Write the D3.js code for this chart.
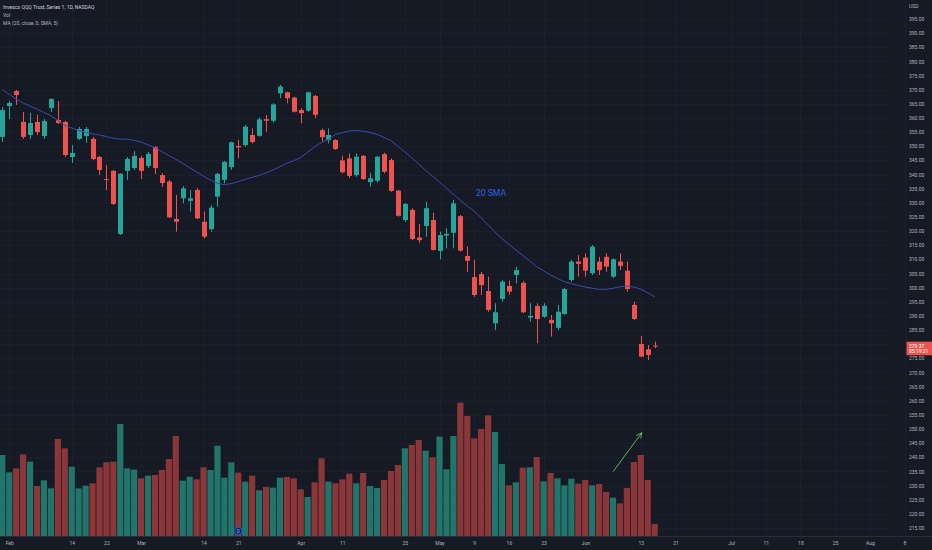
<!DOCTYPE html>
<html>
<head>
<meta charset="utf-8">
<script src="https://cdn.jsdelivr.net/npm/d3@7"></script>
<style>
  body { margin: 0; background: #161a25; }
  svg { display: block; font-family: Roboto, "Noto Sans", sans-serif; }
</style>
</head>
<body>
<div id="chart"></div>
<script>
// daily bars, QQQ
var dates = ["2022-01-31",
  "2022-02-01","2022-02-02","2022-02-03","2022-02-04","2022-02-07","2022-02-08","2022-02-09","2022-02-10","2022-02-11",
  "2022-02-14","2022-02-15","2022-02-16","2022-02-17","2022-02-18","2022-02-22","2022-02-23","2022-02-24","2022-02-25","2022-02-28",
  "2022-03-01","2022-03-02","2022-03-03","2022-03-04","2022-03-07","2022-03-08","2022-03-09","2022-03-10","2022-03-11",
  "2022-03-14","2022-03-15","2022-03-16","2022-03-17","2022-03-18","2022-03-21","2022-03-22","2022-03-23","2022-03-24","2022-03-25",
  "2022-03-28","2022-03-29","2022-03-30","2022-03-31",
  "2022-04-01","2022-04-04","2022-04-05","2022-04-06","2022-04-07","2022-04-08","2022-04-11","2022-04-12","2022-04-13","2022-04-14",
  "2022-04-18","2022-04-19","2022-04-20","2022-04-21","2022-04-22","2022-04-25","2022-04-26","2022-04-27","2022-04-28","2022-04-29",
  "2022-05-02","2022-05-03","2022-05-04","2022-05-05","2022-05-06","2022-05-09","2022-05-10","2022-05-11","2022-05-12","2022-05-13",
  "2022-05-16","2022-05-17","2022-05-18","2022-05-19","2022-05-20","2022-05-23","2022-05-24","2022-05-25","2022-05-26","2022-05-27",
  "2022-05-31","2022-06-01","2022-06-02","2022-06-03","2022-06-06","2022-06-07","2022-06-08","2022-06-09","2022-06-10",
  "2022-06-13","2022-06-14","2022-06-15"];

var opens = [353.3,364.2,369.5,358.6,354.0,358.6,353.6,363.5,359.3,358.6,
  346.2,352.6,353.6,352.6,346.2,338.4,341.3,319.0,341.3,342.3,
  345.9,343.0,349.7,339.8,337.5,324.3,331.6,330.7,334.5,323.3,
  320.7,332.2,338.1,342.6,350.1,350.4,354.0,353.7,359.6,359.0,
  368.7,369.1,367.2,362.8,362.6,367.8,355.7,352.2,352.2,345.0,
  345.7,339.8,346.6,337.3,337.8,347.2,345.1,334.3,323.9,327.5,
  317.7,321.8,323.9,313.0,318.4,319.4,325.3,311.2,303.7,304.8,
  298.8,287.4,296.0,300.6,304.5,301.7,289.4,293.5,289.7,288.6,
  285.8,290.7,302.7,309.2,310.6,305.1,309.2,310.9,303.9,309.2,
  306.0,293.9,280.1,278.2,279.5];
var highs = [363.9,366.0,369.9,362.1,361.8,361.1,359.6,367.0,366.0,359.0,
  350.4,356.8,356.8,353.3,346.6,343.4,341.6,340.5,346.2,348.3,
  346.6,348.0,350.1,340.5,338.1,332.8,335.9,334.5,335.2,326.9,
  329.2,340.6,344.8,351.6,352.2,357.5,356.3,360.2,361.1,365.2,
  371.7,369.3,367.5,363.5,369.3,368.1,356.3,356.3,352.5,346.6,
  347.5,347.5,346.9,340.6,346.6,347.7,345.7,334.5,330.0,328.1,
  322.5,330.4,326.5,319.8,321.0,331.0,325.7,314.5,309.8,305.6,
  303.9,294.5,302.7,302.5,307.4,302.3,294.5,294.5,294.5,290.3,
  293.9,299.8,309.8,311.5,312.1,315.1,310.9,312.1,310.4,312.1,
  309.2,295.0,282.9,279.7,280.9];
var lows = [351.5,359.6,364.6,352.6,352.6,354.0,352.6,362.1,357.9,346.2,
  344.1,352.2,351.2,345.1,339.8,334.5,329.2,318.6,338.1,341.6,
  338.4,342.3,340.2,335.6,324.6,319.8,329.8,326.9,324.3,317.4,
  319.8,328.6,336.9,341.6,345.7,349.8,351.0,353.4,355.1,358.3,
  367.0,365.2,362.0,358.1,362.2,359.9,351.6,351.0,348.7,340.4,
  338.7,339.2,338.1,335.7,337.1,340.4,333.9,325.1,323.3,316.8,
  315.7,318.0,313.1,310.0,313.9,313.9,312.7,305.6,296.8,297.4,
  291.5,285.0,295.0,297.4,301.5,291.0,288.0,280.3,289.3,282.7,
  285.0,290.3,302.1,303.9,303.9,304.5,304.5,305.6,303.3,306.2,
  298.6,288.6,275.4,274.4,278.6];
var closes = [362.8,365.3,368.1,353.3,358.2,355.0,358.9,366.7,358.2,346.9,
  347.6,356.1,356.1,345.5,341.6,338.1,329.6,340.3,345.5,346.6,
  341.3,347.3,342.3,337.0,324.9,323.3,335.1,331.6,324.5,318.0,
  328.3,340.2,344.5,351.4,349.6,356.9,351.5,359.5,359.0,364.8,
  371.1,367.0,362.2,361.7,369.1,361.1,353.2,354.0,349.0,340.8,
  339.5,346.3,338.4,338.7,346.3,341.0,334.2,325.4,329.6,317.2,
  316.8,328.1,313.3,318.6,319.0,329.8,313.1,309.5,297.4,300.9,
  292.1,291.3,302.1,298.6,306.2,291.3,290.0,288.9,293.6,287.4,
  291.5,299.5,309.2,308.4,306.0,314.5,306.2,307.4,310.0,307.7,
  299.5,288.9,275.6,276.2,279.37];
// volume in millions
var volumes = [97.2,76.4,81.2,98.0,89.2,60.0,66.8,57.2,116.4,105.2,
  83.2,57.2,60.4,63.2,82.4,88.4,89.2,134.4,81.2,79.6,
  69.2,72.4,73.2,79.2,92.4,120.0,66.4,71.2,68.0,82.4,
  79.2,108.4,70.0,88.4,76.0,65.2,72.4,54.8,58.8,58.0,
  70.0,70.8,69.2,56.0,46.8,64.4,93.2,65.2,63.2,68.0,
  74.8,63.2,75.6,60.0,57.6,67.2,78.0,85.2,105.2,109.2,
  115.2,102.4,94.4,119.2,80.0,120.0,160.0,144.0,117.2,128.4,
  144.8,124.8,86.4,60.8,64.4,82.0,82.4,94.8,65.6,75.6,
  69.2,60.8,68.8,62.8,67.2,60.8,62.4,52.8,46.0,39.2,
  57.6,88.8,97.2,67.2,14.4];
// 20 SMA
var ma20 = [370.0,368.4,366.7,365.3,364.2,363.1,362.0,360.8,359.1,357.4,
  356.4,355.6,354.9,354.4,354.0,353.4,352.8,352.5,352.5,352.1,
  351.5,350.5,349.5,348.1,346.7,345.4,343.9,342.4,340.9,339.4,
  338.0,336.9,336.4,336.8,337.5,338.3,339.0,339.7,340.6,341.6,
  342.8,344.0,344.9,346.0,347.9,349.8,351.3,352.5,354.2,354.8,
  355.4,355.6,355.3,354.9,354.2,353.1,352.0,350.0,348.0,345.9,
  343.7,341.5,339.4,337.3,335.2,333.0,330.9,328.9,327.0,324.7,
  322.2,319.7,317.3,315.3,313.3,311.4,309.4,307.4,306.0,304.5,
  303.2,302.1,301.4,300.8,300.2,299.8,299.4,299.4,299.8,300.3,
  300.6,300.2,299.5,298.2,296.7];

var tickDates = ["2022-02-01","2022-02-14","2022-02-22","2022-03-01","2022-03-14","2022-03-21","2022-04-01","2022-04-11",
  "2022-04-25","2022-05-02","2022-05-09","2022-05-16","2022-05-23","2022-06-01","2022-06-13","2022-06-21","2022-07-01",
  "2022-07-11","2022-07-18","2022-07-25","2022-08-01","2022-08-08"];
var tickLabels = ["Feb","14","22","Mar","14","21","Apr","11","25","May","9","16","23","Jun","13","21","Jul","11","18","25","Aug","8"];
var holidays = ["2022-06-20","2022-07-04"];
var priceTicks = d3.range(215, 400, 5);

var svgWidth = 932;
var svgHeight = 550;
var paneRight = 888;
var paneBottom = 536;
var barStep = 6.94;

var upColor = "#26a69a", downColor = "#ef5350";
var upVol = "#22756b", downVol = "#8b3638";

// trading-session index, also for dates past the last bar
var parseDay = d3.utcParse("%Y-%m-%d"), fmtDay = d3.utcFormat("%Y-%m-%d");
function sessionIndex(ds) {
  var k = dates.indexOf(ds);
  if (k >= 0) return k;
  var day = parseDay(dates[dates.length - 1]), target = parseDay(ds), n = dates.length - 1;
  while (day < target) {
    day = d3.utcDay.offset(day, 1);
    var wd = day.getUTCDay();
    if (wd !== 0 && wd !== 6 && holidays.indexOf(fmtDay(day)) < 0) n++;
  }
  return n;
}
var tickIdx = tickDates.map(sessionIndex);

var x = d3.scaleLinear().domain([0, 130]).range([2.3, 2.3 + 130 * barStep]);
var y = d3.scaleLinear().domain([215, 395]).range([528, 19]);
var yVol = d3.scaleLinear().domain([0, 120]).range([paneBottom, paneBottom - 100]);

var svg = d3.select("#chart")
  .append("svg")
  .attr("width", svgWidth)
  .attr("height", svgHeight);

svg.append("rect").attr("width", svgWidth).attr("height", svgHeight).attr("fill", "#161a25");

svg.append("defs").append("clipPath").attr("id", "pane")
  .append("rect").attr("width", paneRight).attr("height", paneBottom);

// grid
var grid = svg.append("g").attr("stroke", "#1b1f2b").attr("shape-rendering", "crispEdges");
grid.selectAll("line.h").data(priceTicks).enter().append("line")
  .attr("x1", 0).attr("x2", paneRight)
  .attr("y1", d => Math.round(y(d)) + 0.5).attr("y2", d => Math.round(y(d)) + 0.5);
grid.selectAll("line.v").data(tickIdx).enter().append("line")
  .attr("y1", 0).attr("y2", paneBottom)
  .attr("x1", d => Math.round(x(d)) + 0.5).attr("x2", d => Math.round(x(d)) + 0.5);

var pane = svg.append("g").attr("clip-path", "url(#pane)");

// volume
pane.append("g").selectAll("rect")
  .data(volumes)
  .enter()
  .append("rect")
  .attr("x", (d, i) => x(i) - 3.1)
  .attr("width", 6.2)
  .attr("y", d => yVol(d))
  .attr("height", d => paneBottom - yVol(d))
  .attr("fill", (d, i) => closes[i] >= opens[i] ? upVol : downVol);

// candles
var candles = pane.append("g").selectAll("g")
  .data(dates)
  .enter()
  .append("g")
  .attr("fill", (d, i) => closes[i] >= opens[i] ? upColor : downColor)
  .attr("stroke", (d, i) => closes[i] >= opens[i] ? upColor : downColor);

candles.append("line")
  .attr("x1", (d, i) => Math.round(x(i)) + 0.5)
  .attr("x2", (d, i) => Math.round(x(i)) + 0.5)
  .attr("y1", (d, i) => y(highs[i]))
  .attr("y2", (d, i) => y(lows[i]))
  .attr("stroke-width", 1);

candles.append("rect")
  .attr("stroke", "none")
  .attr("x", (d, i) => Math.round(x(i)) - 2)
  .attr("width", 5)
  .attr("y", (d, i) => y(Math.max(opens[i], closes[i])))
  .attr("height", (d, i) => Math.max(1, Math.abs(y(opens[i]) - y(closes[i]))));

// moving average
var maLine = d3.line()
  .x((d, i) => x(i))
  .y(d => y(d));
pane.append("path")
  .datum(ma20)
  .attr("d", maLine)
  .attr("fill", "none")
  .attr("stroke", "#3a4bb0")
  .attr("stroke-width", 1);

// drawings
svg.append("text")
  .attr("x", x(68.25))
  .attr("y", y(332.4))
  .attr("fill", "#2f62e0")
  .attr("font-size", 8.6)
  .text("20 SMA");

var arrowFrom = { i: 88, p: 234.9 }, arrowTo = { i: 92.15, p: 248.7 };
var ax1 = x(arrowFrom.i), ay1 = y(arrowFrom.p), ax2 = x(arrowTo.i), ay2 = y(arrowTo.p);
var ang = Math.atan2(ay2 - ay1, ax2 - ax1);
var arrow = svg.append("g").attr("stroke", "#5fb35f").attr("stroke-width", 1).attr("fill", "none");
arrow.append("line").attr("x1", ax1).attr("y1", ay1).attr("x2", ax2).attr("y2", ay2);
arrow.append("path")
  .attr("d", "M" + (ax2 - 6 * Math.cos(ang - 0.45)) + "," + (ay2 - 6 * Math.sin(ang - 0.45)) +
    "L" + ax2 + "," + ay2 +
    "L" + (ax2 - 6 * Math.cos(ang + 0.45)) + "," + (ay2 - 6 * Math.sin(ang + 0.45)));

// dividend marker
var dx = x(sessionIndex("2022-03-21"));
svg.append("circle").attr("cx", dx).attr("cy", 531).attr("r", 3.8)
  .attr("fill", "#142456").attr("stroke", "#2962ff").attr("stroke-width", 0.8);
svg.append("text").attr("x", dx).attr("y", 532.8).attr("text-anchor", "middle")
  .attr("fill", "#8fb0ff").attr("font-size", 4.8).text("D");

// time axis
svg.append("line")
  .attr("x1", 0).attr("x2", svgWidth)
  .attr("y1", paneBottom + 0.5).attr("y2", paneBottom + 0.5)
  .attr("stroke", "#2a2e39");

var timeAxis = svg.append("g")
  .attr("transform", `translate(0, ${paneBottom})`)
  .call(d3.axisBottom(x).tickValues(tickIdx).tickFormat((d, i) => tickLabels[i]).tickSize(0).tickPadding(5));
timeAxis.select(".domain").remove();
timeAxis.selectAll("text").attr("fill", "#b2b5be").attr("font-size", 5).attr("font-family", "Roboto, sans-serif");

// price axis
var priceAxis = svg.append("g")
  .attr("transform", "translate(909, 0)")
  .call(d3.axisRight(y).tickValues(priceTicks).tickFormat(d3.format(".2f")).tickSize(0).tickPadding(0));
priceAxis.select(".domain").remove();
priceAxis.selectAll("text").attr("fill", "#b2b5be").attr("font-size", 5).attr("font-family", "Roboto, sans-serif");

svg.append("text").attr("x", 909).attr("y", 7.8).attr("fill", "#b2b5be").attr("font-size", 5).text("USD");

// last price label
var lastY = y(closes[closes.length - 1]);
svg.append("rect")
  .attr("x", 906.5).attr("y", lastY - 4.3)
  .attr("width", 26).attr("height", 13.6)
  .attr("fill", downColor);
svg.append("text").attr("x", 909).attr("y", lastY + 1.7)
  .attr("fill", "#ffffff").attr("font-size", 5)
  .text(d3.format(".2f")(closes[closes.length - 1]));
svg.append("text").attr("x", 909).attr("y", lastY + 7)
  .attr("fill", "#ffffff").attr("font-size", 5)
  .text("05:19:21");

// legend
var legend = svg.append("g").attr("font-size", 5);
legend.append("text").attr("x", 3).attr("y", 9).attr("fill", "#d1d4dc").text("Invesco QQQ Trust, Series 1, 1D, NASDAQ");
legend.append("text").attr("x", 3).attr("y", 16.8).attr("fill", "#b2b5be").text("Vol");
legend.append("text").attr("x", 3).attr("y", 24.8).attr("fill", "#b2b5be").text("MA (20, close, 0, SMA, 5)");
</script>
</body>
</html>
